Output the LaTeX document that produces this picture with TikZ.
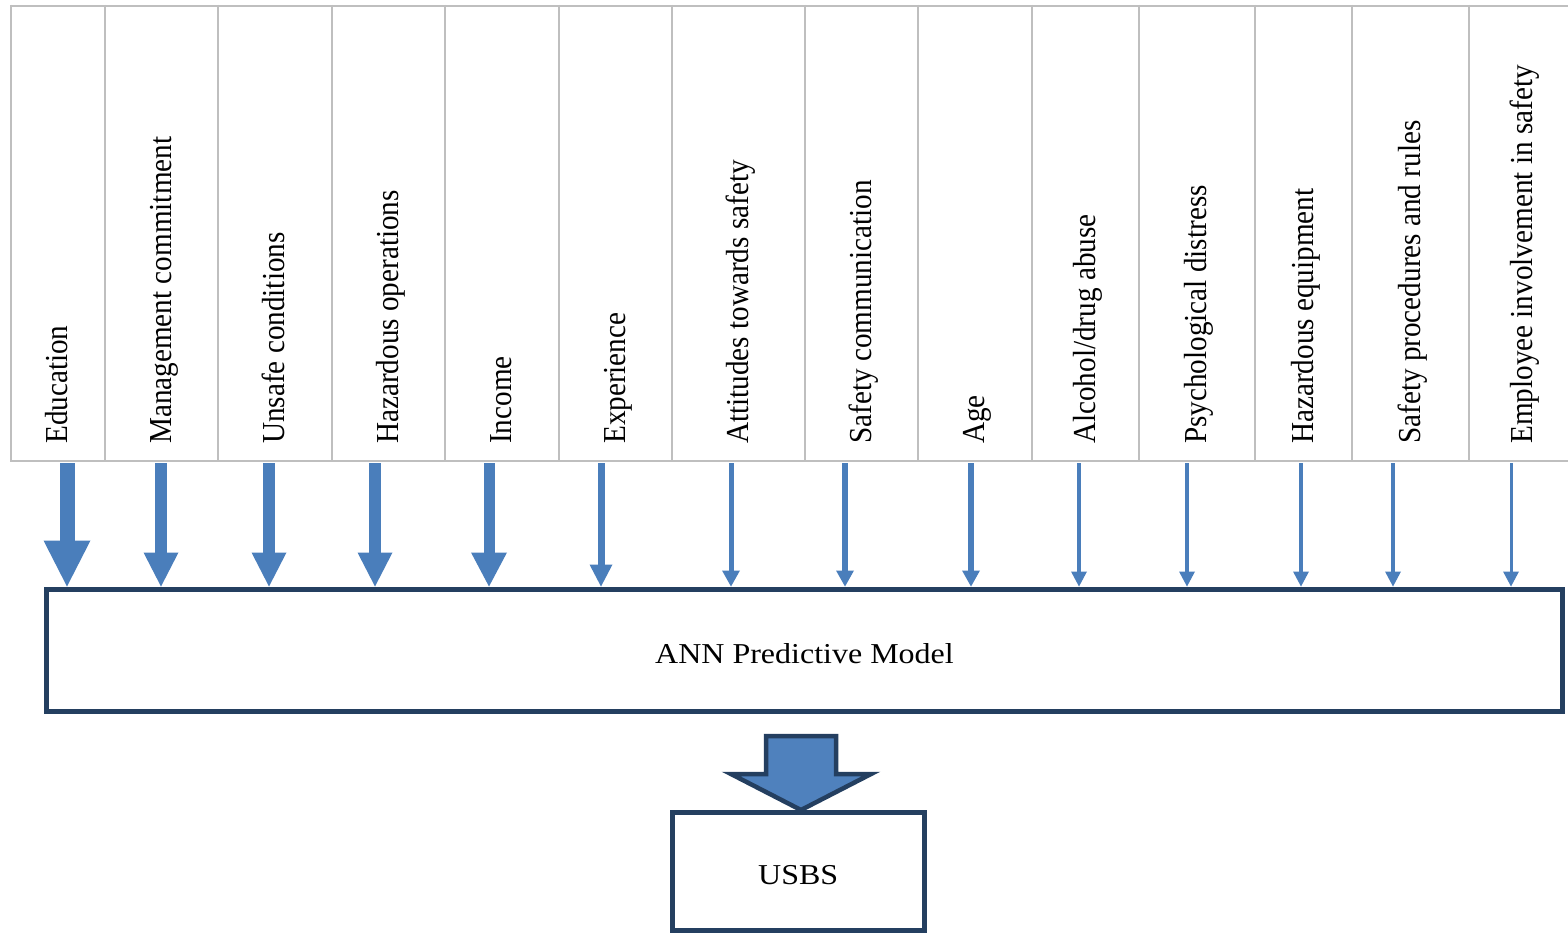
\documentclass[tikz,border=0pt]{standalone}
\usepackage{fontspec}
\setmainfont{Liberation Serif}
\usetikzlibrary{arrows.meta}
\definecolor{gridgray}{HTML}{BFBFBF}
\definecolor{inblue}{HTML}{4A7EBB}
\definecolor{fillblue}{HTML}{4F81BD}
\definecolor{navy}{HTML}{243F60}
\newcommand\vlabel[1]{\scalebox{0.912}[1]{#1}}
\newcommand\hlabel[1]{\scalebox{1}[0.9]{#1}}
\begin{document}
\begin{tikzpicture}[x=1pt,y=-1pt,
  grid/.style={draw=gridgray,line width=2pt},
  factor/.style={rotate=90,anchor=base west,inner sep=0pt,font=\fontsize{32}{38}\selectfont},
  modelbox/.style={draw=navy,line width=5pt,fill=white,inner sep=0pt,
    font=\fontsize{32}{38}\selectfont,text height=26.6pt,text depth=0pt},
  feed/.style n args={3}{draw=inblue,line width=#1,
    -{Triangle[width=#2,length=#3,line width=0pt,fill=inblue]}},
  blockarrow/.style={fill=fillblue,draw=navy,line width=4.5pt,line join=miter}]
\useasboundingbox (0,0) rectangle (1568,934);
\fill[white] (0,0) rectangle (1568,934);

% factor table
\foreach \bx in {11,105,218,332,445,559,672,805,918,1032,1139,1255,1352,1469}
  \draw[grid] (\bx,5) -- (\bx,462);
\draw[grid] (10,6) -- (1568,6) (10,461) -- (1568,461);

\node[factor] (f1)  at (67.5,444)  {\vlabel{Education}};
\node[factor] (f2)  at (171,444)   {\vlabel{Management commitment}};
\node[factor] (f3)  at (284.5,444) {\vlabel{Unsafe conditions}};
\node[factor] (f4)  at (398,444)   {\vlabel{Hazardous operations}};
\node[factor] (f5)  at (511.5,444) {\vlabel{Income}};
\node[factor] (f6)  at (625,444)   {\vlabel{Experience}};
\node[factor] (f7)  at (748,444)   {\vlabel{Attitudes towards safety}};
\node[factor] (f8)  at (871,444)   {\vlabel{Safety communication}};
\node[factor] (f9)  at (984.5,444) {\vlabel{Age}};
\node[factor] (f10) at (1095,444)  {\vlabel{Alcohol/drug abuse}};
\node[factor] (f11) at (1206.5,444){\vlabel{Psychological distress}};
\node[factor] (f12) at (1313,444)  {\vlabel{Hazardous equipment}};
\node[factor] (f13) at (1420,444)  {\vlabel{Safety procedures and rules}};
\node[factor] (f14) at (1532.5,444){\vlabel{Employee involvement in safety}};

% model and outcome
\node[modelbox,minimum width=1516pt,minimum height=122pt] (ann) at (804.5,650)
  {\hlabel{ANN Predictive Model}};
\node[modelbox,minimum width=251.5pt,minimum height=118pt] (usbs) at (798.25,871.5)
  {\hlabel{USBS}};

% input arrows, thickness by weight
\foreach \i/\ax/\sw/\hw/\hl in {
  1/67/15pt/47pt/46pt, 2/161/12pt/35pt/34pt, 3/269/12pt/35pt/34pt,
  4/375/12pt/35pt/34pt, 5/489/11pt/36pt/34pt, 6/601/7pt/23pt/22pt,
  7/731/5pt/18pt/16pt, 8/845/6pt/18pt/16pt, 9/971/6pt/18pt/16pt,
  10/1079/4pt/16pt/15pt, 11/1187/4pt/16pt/15pt, 12/1301/4pt/16pt/15pt,
  13/1393/4pt/16pt/15pt, 14/1511/3pt/16pt/15pt} {
  \coordinate (s\i) at (\ax,463);
  \draw[feed={\sw}{\hw}{\hl}] (s\i) -- (s\i |- ann.north);
}

% output arrow
\filldraw[blockarrow] (766,736) -- (836,736) -- (836,774) -- (871,774)
  -- (usbs.north -| 801,0) -- (731,774) -- (766,774) -- cycle;
\end{tikzpicture}
\end{document}
